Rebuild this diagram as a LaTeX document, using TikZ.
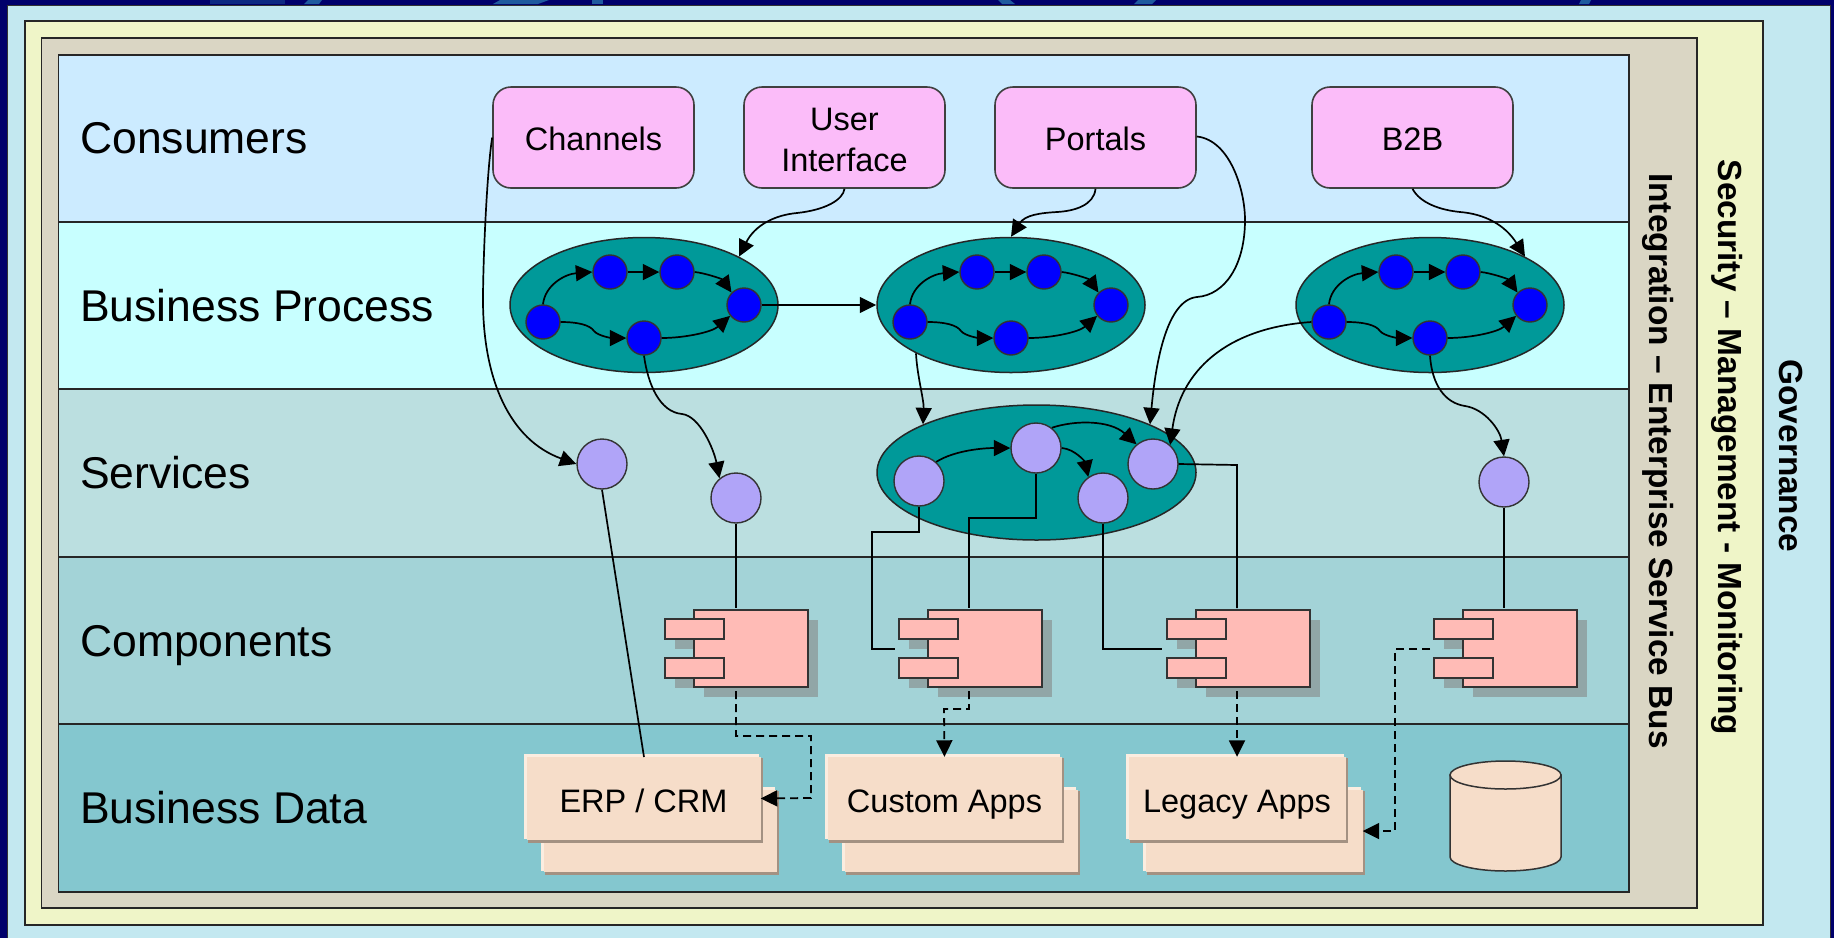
\documentclass[tikz,border=0pt]{standalone}
\usepackage{fontspec}
\setmainfont{Liberation Sans}
\usetikzlibrary{arrows.meta,shapes.geometric}
\definecolor{navy}{HTML}{00006B}
\definecolor{frag}{HTML}{1F5A9E}
\definecolor{govc}{HTML}{C3E8F0}
\definecolor{secc}{HTML}{EFF5C8}
\definecolor{intc}{HTML}{DAD6C4}
\definecolor{laneA}{HTML}{CCEBFF}
\definecolor{laneB}{HTML}{C8FFFF}
\definecolor{laneC}{HTML}{BBDFE0}
\definecolor{laneD}{HTML}{A3D3D7}
\definecolor{laneE}{HTML}{84C7CF}
\definecolor{tealc}{HTML}{009999}
\definecolor{bluec}{HTML}{0000FF}
\definecolor{purc}{HTML}{B0A4F8}
\definecolor{pinkc}{HTML}{FBBCF9}
\definecolor{compc}{HTML}{FFBBB6}
\definecolor{shadc}{HTML}{91A6A7}
\definecolor{stkc}{HTML}{F6DDC9}
\definecolor{stkhl}{HTML}{FBEDE0}
\definecolor{stksd}{HTML}{A39182}
\tikzset{
  frame/.style={draw=black!85,line width=1.6pt},
  lanelabel/.style={anchor=base west,font=\fontsize{44.5}{50}\selectfont,inner sep=0pt},
  sidelabel/.style={rotate=-90,font=\fontsize{33.4}{38}\bfseries\selectfont,inner sep=0pt},
  consumer/.style={draw=black!75,line width=1.6pt,fill=pinkc,rounded corners=18pt,minimum width=201pt,minimum height=101pt,align=center,inner sep=0pt,font=\fontsize{32.5}{41}\selectfont},
  oneline/.style={text height=25pt,text depth=0pt},
  bigell/.style={ellipse,draw=black!85,line width=1.5pt,fill=tealc,inner sep=0pt},
  bluenode/.style={circle,draw=black!80,line width=1.4pt,fill=bluec,minimum size=34pt,inner sep=0pt},
  purpnode/.style={circle,draw=black!80,line width=1.4pt,fill=purc,minimum size=50pt,inner sep=0pt},
  comppart/.style={draw=black!80,line width=2pt,fill=compc,inner sep=0pt},
  stkbox/.style={fill=stkc,inner sep=0pt,text height=27pt,text depth=0pt,font=\fontsize{32.5}{38}\selectfont},
  conn/.style={draw=black,line width=1.7pt,-{Triangle[length=16.5pt,width=16pt]}},
  plainconn/.style={draw=black,line width=1.7pt},
  dconn/.style={draw=black,line width=1.8pt,dash pattern=on 8pt off 5pt},
  dtip/.style={-{Triangle[length=16.5pt,width=16pt]}}
}
\newcommand{\procgroup}[2]{%
  \begin{scope}[shift={(#2,0)}]
    \node[bigell,minimum width=268pt,minimum height=135pt] (#1) at (644,305) {};
    \node[bluenode] (#1a) at (543,322) {};
    \node[bluenode] (#1b) at (610,272) {};
    \node[bluenode] (#1c) at (677,272) {};
    \node[bluenode] (#1d) at (644,338) {};
    \node[bluenode] (#1e) at (744,305) {};
    \draw[conn] (#1a.north) .. controls (545,285) and (565,274) .. (#1b.west);
    \draw[conn] (#1b) -- (#1c);
    \draw[conn] (#1c.east) .. controls (705,273) and (722,279) .. (#1e.135);
    \draw[conn] (#1a.east) .. controls (578,322) and (590,325) .. (594,331) .. controls (598,336) and (612,338) .. (#1d.west);
    \draw[conn] (#1d.east) .. controls (685,338) and (712,332) .. (#1e.218);
  \end{scope}}
\newcommand{\compgroup}[2]{%
  \fill[shadc] (#2+10,620) rectangle (#2+124,697);
  \fill[shadc] (#2-19,629) rectangle (#2+10,649);
  \fill[shadc] (#2-19,668) rectangle (#2+10,688);
  \node[comppart,minimum width=114pt,minimum height=77pt] (#1) at (#2+57,648.5) {};
  \node[comppart,minimum width=59pt,minimum height=20pt] (#1p) at (#2,629) {};
  \node[comppart,minimum width=59pt,minimum height=20pt] (#1q) at (#2,668) {};}
\newcommand{\stackrect}[6]{%
  \fill[stkhl] (#2,#3) rectangle (#4-4,#5-4);
  \fill[stksd] (#2+4,#3+4) rectangle (#4,#5);
  \node[stkbox,minimum width={(#4-#2-5)*1pt},minimum height={(#5-#3-6)*1pt}] (#1) at ({(#2+#4)/2},{(#3+#5)/2}) {#6};}
\begin{document}
\begin{tikzpicture}[x=1pt,y=-1pt]
\useasboundingbox (0,0) rectangle (1834,938);
\fill[navy] (0,0) rectangle (1834,938);
% fragments of the cut-off heading along the top edge
\fill[frag!45!navy] (210,0) rectangle (285,4);
\fill[frag] (308,0) -- (322,0) -- (319,4) -- (304,4) -- cycle;
\fill[frag] (500,0) -- (549,0) -- (538,4) -- (493,4) -- cycle;
\fill[frag] (592,0) rectangle (603,4);
\fill[frag] (998,0) -- (1010,0) -- (1015,4) -- (1002,4) -- cycle;
\fill[frag] (1138,0) -- (1156,0) -- (1152,4) -- (1134,4) -- cycle;
\fill[frag] (1581,0) -- (1591,0) -- (1589,4) -- (1579,4) -- cycle;
% nested frames
\fill[govc] (7,5) rectangle (1830,938);
\draw[black!80,line width=1pt] (7,938) -- (7,5) -- (1830,5) -- (1830,938);
\draw[frame,fill=secc] (25,21) rectangle (1763,925);
\draw[frame,fill=intc] (41.5,38) rectangle (1697,908);
% lanes
\fill[laneA] (58.5,55) rectangle (1629,222);
\fill[laneB] (58.5,222) rectangle (1629,389);
\fill[laneC] (58.5,389) rectangle (1629,557);
\fill[laneD] (58.5,557) rectangle (1629,724);
\fill[laneE] (58.5,724) rectangle (1629,892);
\draw[frame] (58.5,55) rectangle (1629,892);
\draw[frame] (58.5,222) -- (1629,222);
\draw[frame] (58.5,389) -- (1629,389);
\draw[frame] (58.5,557) -- (1629,557);
\draw[frame] (58.5,724) -- (1629,724);
% labels
\node[lanelabel] (lConsumers) at (80,153) {Consumers};
\node[lanelabel] (lProcess) at (80,321) {Business Process};
\node[lanelabel] (lServices) at (80,488) {Services};
\node[lanelabel] (lComponents) at (80,656) {Components};
\node[lanelabel] (lData) at (80,823) {Business Data};
\node[sidelabel] (lEsb) at (1658,461) {Integration – Enterprise Service Bus};
\node[sidelabel] (lSec) at (1727,447.5) {Security – Management - Monitoring};
\node[sidelabel] (lGov) at (1791,456) {Governance};
% consumers
\node[consumer,oneline] (chan) at (593.5,137.5) {Channels};
\node[consumer] (ui) at (844.5,137.5) {\rule{0pt}{28.3pt}User\\Interface};
\node[consumer,oneline] (port) at (1095.5,137.5) {Portals};
\node[consumer,oneline] (btob) at (1412.5,137.5) {B2B};
% processes
\procgroup{P}{0}
\procgroup{Q}{367}
\procgroup{R}{786}
% services
\node[bigell,minimum width=319pt,minimum height=135pt] (S) at (1036.5,472.5) {};
\node[purpnode] (s1) at (919,481) {};
\node[purpnode] (s2) at (1036,448) {};
\node[purpnode] (s3) at (1103,498) {};
\node[purpnode] (s4) at (1153,464) {};
\node[purpnode] (c1) at (602,464) {};
\node[purpnode] (c2) at (736,498) {};
\node[purpnode] (c4) at (1504,482) {};
\draw[conn] (s1.48) .. controls (955,450) and (985,448) .. (s2.west);
\draw[conn] (s2.52) .. controls (1075,420) and (1110,420) .. (s4.130);
\draw[conn] (s2.east) .. controls (1075,449) and (1085,462) .. (s3.125);
% components
\compgroup{k1}{694}
\compgroup{k2}{928}
\compgroup{k3}{1196}
\compgroup{k4}{1463}
% data
\stackrect{erpb}{541}{787}{779}{875}{}
\stackrect{erpf}{524}{754}{763}{843}{ERP / CRM}
\stackrect{cusb}{842}{787}{1080}{875}{}
\stackrect{cusf}{825}{754}{1064}{843}{Custom Apps}
\stackrect{legb}{1143}{787}{1365}{875}{}
\stackrect{legf}{1126}{754}{1348}{843}{Legacy Apps}
\draw[draw=black!80,line width=1.5pt,fill=stkc] (1450,775) -- (1450,857) arc[start angle=180,end angle=360,x radius=55.5pt,y radius=14pt] -- (1561,775) -- cycle;
\draw[draw=black!80,line width=1.5pt,fill=stkc] (1505.5,775) ellipse [x radius=55.5pt,y radius=14pt];
% free ends
\coordinate (erpin) at (644,757);
\coordinate (k1top) at (736,608);
\coordinate (k2top) at (969,608);
\coordinate (k3top) at (1237,608);
\coordinate (k4top) at (1504,608);
\coordinate (k2in) at (895,649);
\coordinate (k3in) at (1162,649);
\coordinate (k1bot) at (736,691);
\coordinate (k2bot) at (969,691);
\coordinate (k3bot) at (1237,691);
\coordinate (k4in) at (1430,649);
% curved connectors
\draw[conn] (chan.west) .. controls (487,170) and (483,260) .. (483,300) .. controls (483,380) and (510,440) .. (c1.west);
\draw[conn] (Pd.south) .. controls (648,385) and (660,412) .. (682,414) .. controls (700,416) and (714,450) .. (c2.130);
\draw[conn] (Pe) -- (Q);
\draw[conn] (ui.south) .. controls (843,200) and (825,210) .. (797,213) .. controls (775,215) and (755,225) .. (P.27);
\draw[conn] (port.south) .. controls (1094,205) and (1075,211) .. (1057,212) .. controls (1040,213) and (1025,215) .. (Q.north);
\draw[conn] ([yshift=1pt]port.east) .. controls (1230,140) and (1245,190) .. (1245,220) .. controls (1245,265) and (1225,295) .. (1197,297) .. controls (1165,300) and (1155,370) .. (S.23);
\draw[conn] (btob.south) .. controls (1420,203) and (1440,210) .. (1460,212) .. controls (1485,214) and (1505,225) .. (R.27);
\draw[conn] (Q.207) .. controls (917,375) and (924,400) .. (S.157);
\draw[conn] (Ra.west) .. controls (1225,328) and (1180,372) .. (s4.48);
\draw[conn] (Rd.south) .. controls (1432,385) and (1445,403) .. (1465,406) .. controls (1485,409) and (1500,430) .. (c4.north);
% straight and elbow connectors
\draw[plainconn] (c1.south) -- (erpin);
\draw[plainconn] (c2.south) -- (k1top);
\draw[plainconn] (s1.south) -- (919,532) -- (872,532) -- (872,649) -- (k2in);
\draw[plainconn] (s2.south) -- (1036,518) -- (969,518) -- (k2top);
\draw[plainconn] (s3.south) -- (1103,649) -- (k3in);
\draw[plainconn] (s4.east) -- (1237,465) -- (k3top);
\draw[plainconn] (c4.south) -- (k4top);
% dashed connectors
\draw[dconn,dtip] (k1bot) -- (736,736) -- (811,736) -- (811,798) -- (erpf.east);
\draw[dconn,dtip] (k2bot) -- (969,709) -- (944,709) -- (cusf.north);
\draw[dconn,dtip] (k3bot) -- (legf.north);
\draw[dconn,dtip] (k4in) -- (1395,649) -- (1395,831) -- (legb.east);
\end{tikzpicture}
\end{document}
